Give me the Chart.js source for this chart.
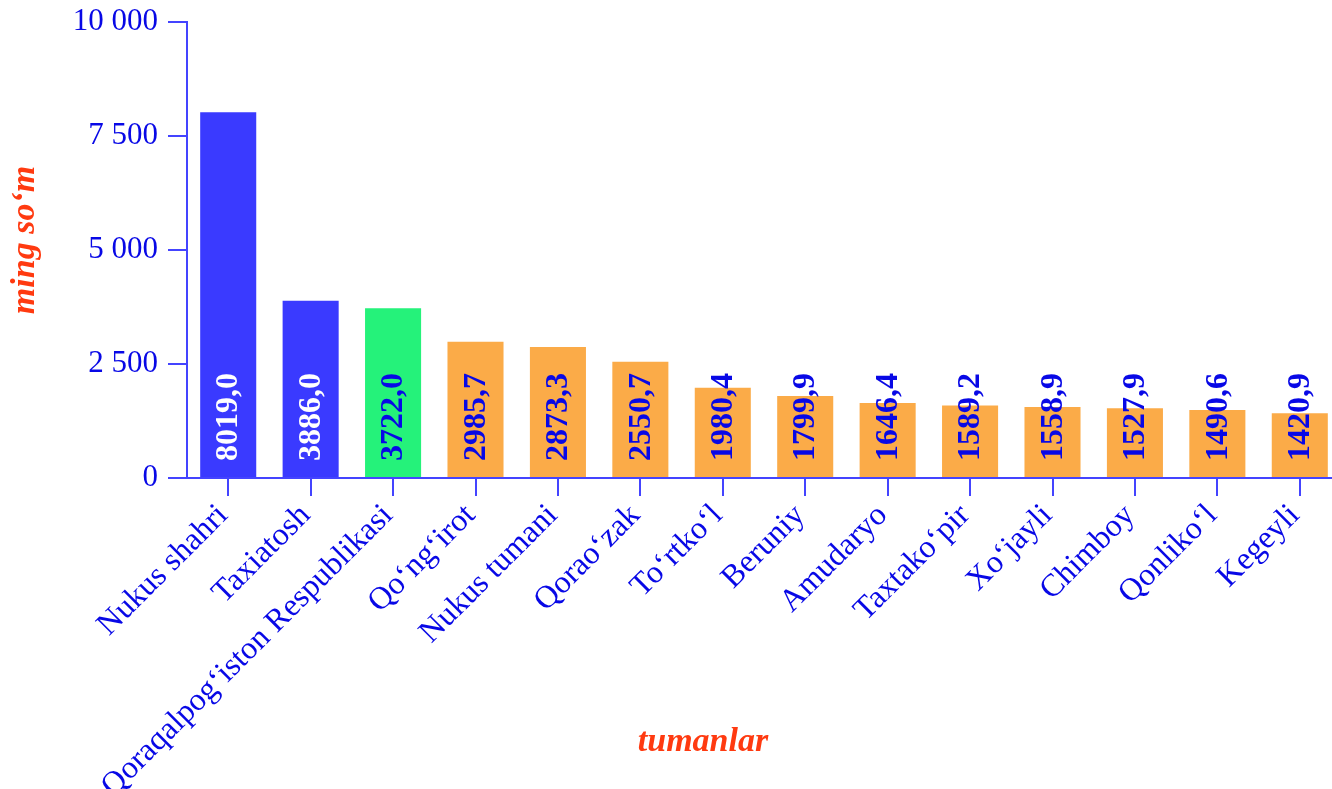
<!DOCTYPE html>
<html>
<head>
<meta charset="utf-8">
<script src="https://cdn.jsdelivr.net/npm/chart.js@4/dist/chart.umd.min.js"></script>
<style>
  html, body { margin: 0; padding: 0; background: #fff; overflow: hidden; }
  canvas { display: block; }
</style>
</head>
<body>
<!-- plot runs a few pixels past the right edge of the window, as in the original -->
<canvas id="chart" width="1341" height="789"></canvas>
<script>
// data
const districts = [
    'Nukus shahri', 'Taxiatosh', 'Qoraqalpog‘iston Respublikasi', 'Qo‘ng‘irot',
    'Nukus tumani', 'Qorao‘zak', 'To‘rtko‘l', 'Beruniy', 'Amudaryo',
    'Taxtako‘pir', 'Xo‘jayli', 'Chimboy', 'Qonliko‘l', 'Kegeyli'
];
const values = [8019.0, 3886.0, 3722.0, 2985.7, 2873.3, 2550.7, 1980.4, 1799.9, 1646.4, 1589.2, 1558.9, 1527.9, 1490.6, 1420.9];
const yTicks = [0, 2500, 5000, 7500, 10000];
const yTitle = 'ming so‘m';
const xTitle = 'tumanlar';

// styles
const BLUE = '#3a3aff';
const GREEN = '#25f27a';
const ORANGE = '#fbab48';
const barColors = districts.map((d, i) => i < 2 ? BLUE : (i === 2 ? GREEN : ORANGE));
const textColor = '#0808e6';
const axisColor = '#4444ff';
const titleColor = '#ff3a10';
const serif = "'Liberation Serif', 'DejaVu Serif', serif";

const fmtThousands = v => String(v).replace(/\B(?=(\d{3})+(?!\d))/g, ' ');
const fmtValue = v => v.toFixed(1).replace('.', ',');

// value labels written upward inside the bars
const barLabels = {
    id: 'barLabels',
    afterDatasetsDraw(chart) {
        const ctx = chart.ctx;
        const meta = chart.getDatasetMeta(0);
        ctx.save();
        ctx.font = `bold 32px ${serif}`;
        ctx.textAlign = 'left';
        ctx.textBaseline = 'middle';
        meta.data.forEach((bar, i) => {
            ctx.save();
            ctx.translate(bar.x + 1, bar.base - 16);
            ctx.rotate(-Math.PI / 2);
            ctx.fillStyle = barColors[i] === BLUE ? '#ffffff' : textColor;
            ctx.fillText(fmtValue(values[i]), 0, 0);
            ctx.restore();
        });
        ctx.restore();
    }
};

// axis titles
const axisTitles = {
    id: 'axisTitles',
    afterDraw(chart) {
        const ctx = chart.ctx;
        const area = chart.chartArea;
        ctx.save();
        ctx.font = `italic bold 34px ${serif}`;
        ctx.fillStyle = titleColor;
        ctx.textAlign = 'center';
        ctx.textBaseline = 'middle';
        ctx.fillText(xTitle, 703, 742);
        ctx.translate(25, (area.top + area.bottom) / 2 - 10);
        ctx.rotate(-Math.PI / 2);
        ctx.fillText(yTitle, 0, 0);
        ctx.restore();
    }
};

new Chart(document.getElementById('chart').getContext('2d'), {
    type: 'bar',
    data: {
        labels: districts,
        datasets: [{
            data: values,
            backgroundColor: barColors,
            borderWidth: 0,
            categoryPercentage: 1,
            barPercentage: 0.68
        }]
    },
    options: {
        responsive: false,
        animation: false,
        devicePixelRatio: 1,
        layout: { padding: { top: 22, right: 0, left: 0, bottom: 0 } },
        plugins: {
            legend: { display: false },
            tooltip: { enabled: false }
        },
        scales: {
            x: {
                offset: true,
                border: { color: axisColor, width: 2 },
                grid: { drawOnChartArea: false, offset: false, tickLength: 18, color: axisColor, lineWidth: 2 },
                ticks: {
                    autoSkip: false,
                    minRotation: 45,
                    maxRotation: 45,
                    padding: 1,
                    labelOffset: -5,
                    color: textColor,
                    font: { family: serif, size: 32 }
                },
                afterFit: s => { s.height = 311; }
            },
            y: {
                min: 0,
                max: 10000,
                afterBuildTicks: s => { s.ticks = yTicks.map(v => ({ value: v })); },
                border: { color: axisColor, width: 2 },
                grid: { drawOnChartArea: false, tickLength: 19, color: axisColor, lineWidth: 2 },
                ticks: {
                    padding: 10,
                    color: textColor,
                    font: { family: serif, size: 31 },
                    callback: v => fmtThousands(v)
                },
                afterFit: s => {
                    s.width = 187;
                    s.paddingTop = 0;
                    s.paddingBottom = 0;
                }
            }
        }
    },
    plugins: [barLabels, axisTitles]
});
</script>
</body>
</html>
